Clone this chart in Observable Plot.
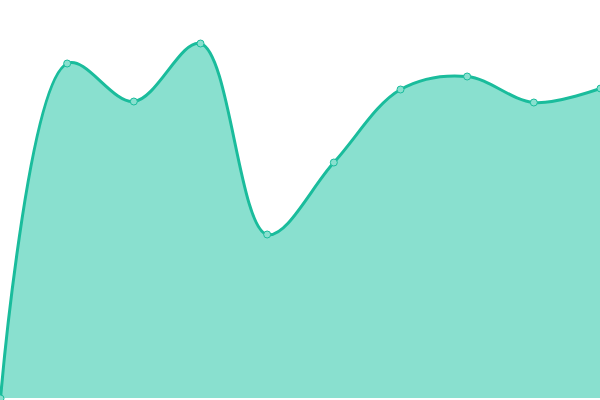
<!DOCTYPE html>
<html>
<head>
<meta charset="utf-8">
<script src="https://cdn.jsdelivr.net/npm/d3@7"></script>
<script src="https://cdn.jsdelivr.net/npm/@observablehq/plot@0.6"></script>
<style>
html, body { margin: 0; padding: 0; background: #fff; }
svg { display: block; }
</style>
</head>
<body>
<div id="chart"></div>
<script>
const categories = [0, 1, 2, 3, 4, 5, 6, 7, 8, 9];
const values = [0, 335, 297, 355, 164, 236, 309, 322, 296, 310];

const data = categories.map((c, i) => ({x: c, y: values[i]}));

const chart = Plot.plot({
  width: 600,
  height: 400,
  margin: 0,
  x: {domain: [0, 9], range: [0, 600], axis: null},
  y: {domain: [0, 398], range: [398, 0], axis: null},
  marks: [
    Plot.areaY(data, {x: "x", y: "y", curve: "catmull-rom", fill: "#89e0cf"}),
    Plot.lineY(data, {x: "x", y: "y", curve: "catmull-rom", stroke: "#1abc9c", strokeWidth: 3}),
    Plot.dot(data, {x: "x", y: "y", r: 3.5, fill: "#89e0cf", stroke: "#1abc9c", strokeWidth: 1})
  ]
});
document.getElementById("chart").append(chart);
</script>
</body>
</html>
